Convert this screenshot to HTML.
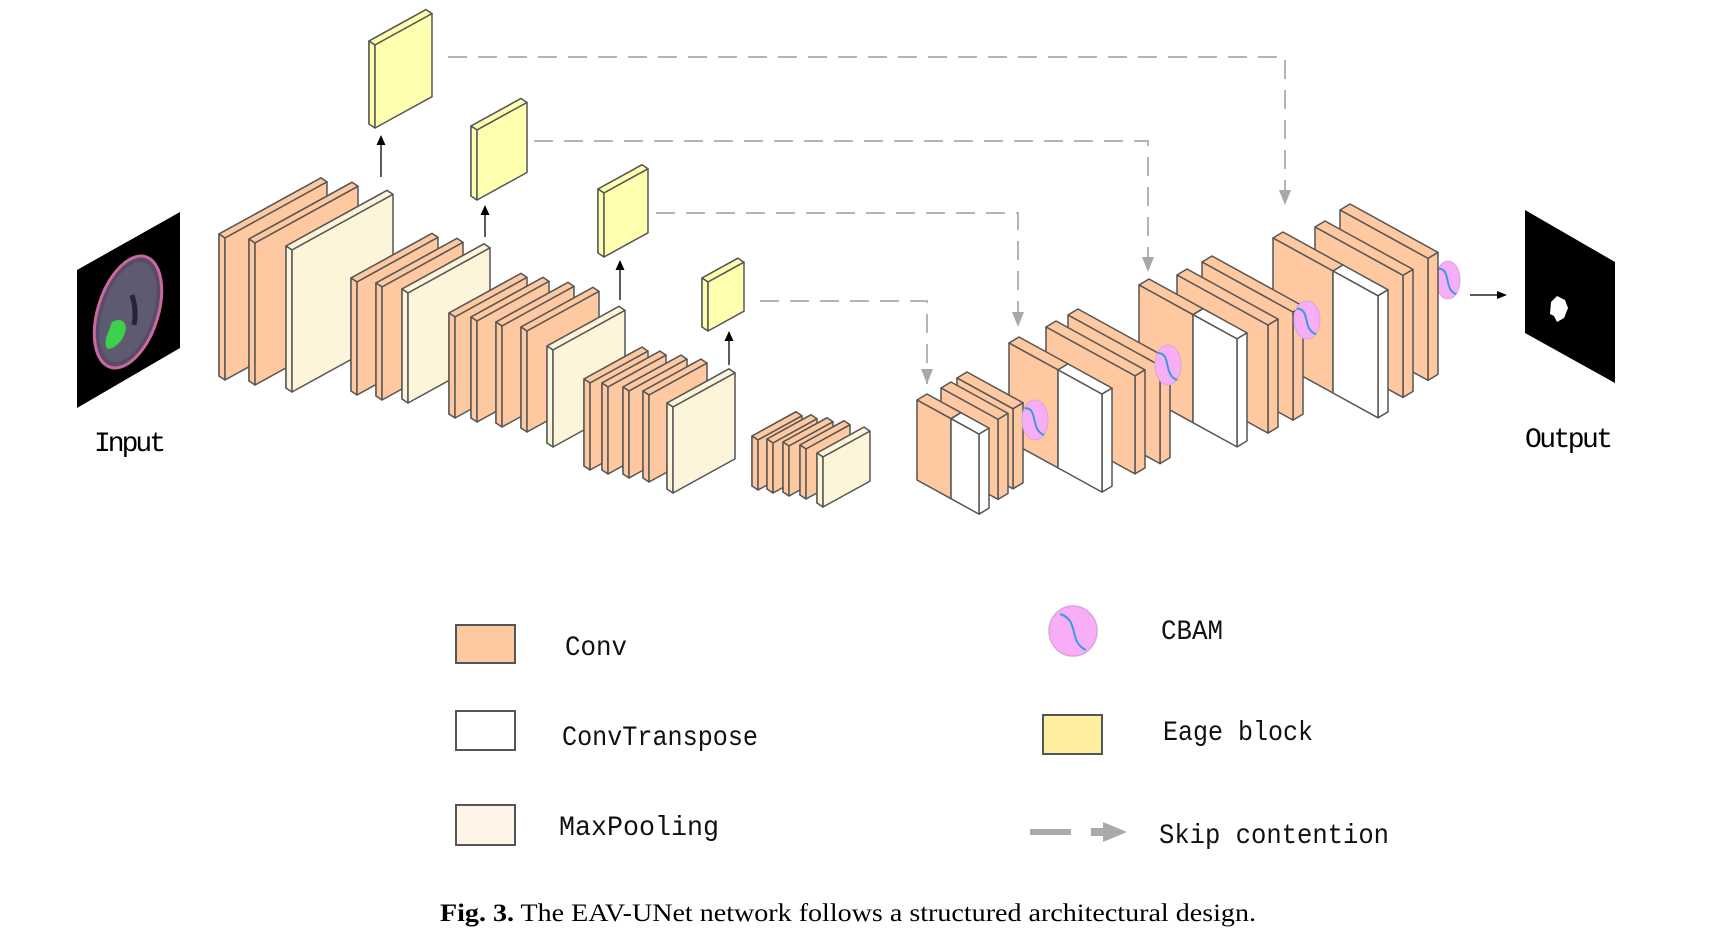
<!DOCTYPE html>
<html><head><meta charset="utf-8"><style>
html,body{margin:0;padding:0;background:#fff;}
svg{display:block;}
</style></head><body>
<svg id="s" width="1717" height="951" viewBox="0 0 1717 951" xmlns="http://www.w3.org/2000/svg">
<rect width="1717" height="951" fill="#fff"/>
<g id="g"></g>
<!-- input -->
<polygon points="77,270 180,212 180,348 77,408" fill="#000"/>
<ellipse cx="128" cy="312" rx="30" ry="58" transform="rotate(18 128 312)" fill="#5a4a6a" stroke="#c76a9a" stroke-width="3"/>
<ellipse cx="128" cy="312" rx="25" ry="52" transform="rotate(18 128 312)" fill="#5e5a70"/>
<path d="M132 295 q5 15 2 30" stroke="#2a2040" stroke-width="5" fill="none"/>
<path d="M112 322 q12 -6 14 6 q-2 14 -14 20 q-8 4 -6 -10z" fill="#3bd14a"/>
<text x="130" y="451" font-family="Liberation Mono, monospace" font-size="28" text-anchor="middle" textLength="72">Input</text>
<!-- output -->
<polygon points="1525,210 1615,262 1615,383 1525,333" fill="#000"/>
<path d="M1551 302 l6 -6 l8 4 l3 8 l-4 10 l-7 4 l-3 -6 l-4 -2z" fill="#fff"/>
<text x="1569" y="447" font-family="Liberation Mono, monospace" font-size="28" text-anchor="middle" textLength="88">Output</text>
<line x1="1470" y1="295" x2="1498" y2="295" stroke="#222" stroke-width="1.5"/>
<polygon points="1507,295 1497,291 1497,299" fill="#000"/>
<!-- legend -->
<rect x="456" y="625" width="59" height="38" fill="#fdc9a0" stroke="#555" stroke-width="2"/>
<rect x="456" y="711" width="59" height="39" fill="#fff" stroke="#555" stroke-width="2"/>
<rect x="456" y="805" width="59" height="40" fill="#fdf3e6" stroke="#555" stroke-width="2"/>
<g font-family="Liberation Mono, monospace" font-size="28" fill="#111">
<text x="565" y="655" textLength="62" lengthAdjust="spacingAndGlyphs">Conv</text>
<text x="562" y="745" textLength="196" lengthAdjust="spacingAndGlyphs">ConvTranspose</text>
<text x="559" y="835" textLength="160" lengthAdjust="spacingAndGlyphs">MaxPooling</text>
<text x="1161" y="639" textLength="62" lengthAdjust="spacingAndGlyphs">CBAM</text>
<text x="1163" y="740" textLength="150" lengthAdjust="spacingAndGlyphs">Eage block</text>
<text x="1159" y="843" textLength="230" lengthAdjust="spacingAndGlyphs">Skip contention</text>
</g>
<ellipse cx="1073" cy="631" rx="24" ry="25" fill="#f7aef7" stroke="#d9a6dc" stroke-width="1.5"/>
<path d="M1060 614 C1080 620 1068 642 1086 650" stroke="#3a9ae0" stroke-width="2" fill="none"/>
<rect x="1043" y="715" width="59" height="39" fill="#fdeea0" stroke="#555" stroke-width="2"/>
<line x1="1030" y1="832" x2="1071" y2="832" stroke="#aaa" stroke-width="6"/>
<polygon points="1091,828 1103,828 1103,822 1127,832 1103,842 1103,836 1091,836" fill="#aaa"/>
<text x="440" y="921" font-family="Liberation Serif, serif" font-size="25" textLength="816" lengthAdjust="spacingAndGlyphs"><tspan font-weight="bold">Fig. 3.</tspan> The EAV-UNet network follows a structured architectural design.</text>
</svg>
<script>
var NS="http://www.w3.org/2000/svg",G=document.getElementById("g");
function P(pts,fill,sw){var p=document.createElementNS(NS,"polygon");p.setAttribute("points",pts.map(function(a){return a[0].toFixed(1)+","+a[1].toFixed(1)}).join(" "));p.setAttribute("fill",fill);p.setAttribute("stroke","#555");p.setAttribute("stroke-width",sw||1.5);p.setAttribute("stroke-linejoin","round");G.appendChild(p);}
function face(x,y,w,h,s){return [[x,y],[x+w,y+w*s],[x+w,y+w*s+h],[x,y+h]];}
function enc(x,y,w,h,f){var s=-0.55,dx=-6,dy=-4;P(face(x+dx,y+dy,w,h,s),f);
 var a=face(x,y,w,h,s);P([[x+dx,y+dy],[x+dx+w,y+dy+w*s],a[1],a[0]],f);P([[x+dx,y+dy],a[0],a[3],[x+dx,y+dy+h]],f);P(a,f);}
var C="#fec8a0",M="#fdf5da",Y="#ffffb0",W="#fff";
function dec(x,y,w,h,split){var s=0.55,dx=10,dy=-6;
 var a=face(x,y,w,h,s);
 if(split){var w1=split-x;
  P([[x,y],[x+dx,y+dy],[x+dx+w1,y+dy+w1*s],[x+w1,y+w1*s]],C);
  P([[x+w1,y+w1*s],[x+dx+w1,y+dy+w1*s],[x+dx+w,y+dy+w*s],[x+w,y+w*s]],W);
  P([a[1],[a[1][0]+dx,a[1][1]+dy],[a[2][0]+dx,a[2][1]+dy],a[2]],W);
  P(face(x,y,w1,h,s),C);P(face(split,y+w1*s,w-w1,h,s),W);
 }else{
  P([[x,y],[x+dx,y+dy],[x+dx+w,y+dy+w*s],[x+w,y+w*s]],C);
  P([a[1],[a[1][0]+dx,a[1][1]+dy],[a[2][0]+dx,a[2][1]+dy],a[2]],C);
  P(a,C);}
}
function dash(pts){var p=document.createElementNS(NS,"polyline");p.setAttribute("points",pts.join(" "));p.setAttribute("fill","none");p.setAttribute("stroke","#b4b4b4");p.setAttribute("stroke-width","2");p.setAttribute("stroke-dasharray","19 11");G.appendChild(p);
 var e=pts[pts.length-1].split(",");var x=+e[0],y=+e[1];var t=document.createElementNS(NS,"polygon");t.setAttribute("points",(x-6)+","+(y-15)+" "+(x+6)+","+(y-15)+" "+x+","+y);t.setAttribute("fill","#a8a8a8");G.appendChild(t);}
function arr(x,y1,y2){var l=document.createElementNS(NS,"line");l.setAttribute("x1",x);l.setAttribute("x2",x);l.setAttribute("y1",y1);l.setAttribute("y2",y2+8);l.setAttribute("stroke","#333");l.setAttribute("stroke-width","1.6");G.appendChild(l);
 var t=document.createElementNS(NS,"polygon");t.setAttribute("points",(x-4.5)+","+(y2+10)+" "+(x+4.5)+","+(y2+10)+" "+x+","+y2);t.setAttribute("fill","#000");G.appendChild(t);}
function cbam(cx,cy,rx,ry){var e=document.createElementNS(NS,"ellipse");e.setAttribute("cx",cx);e.setAttribute("cy",cy);e.setAttribute("rx",rx);e.setAttribute("ry",ry);e.setAttribute("fill","#f7aef7");e.setAttribute("stroke","#d9a6dc");G.appendChild(e);
 var p=document.createElementNS(NS,"path");p.setAttribute("d","M"+(cx-rx*0.8)+" "+(cy-ry*0.6)+" C"+(cx+rx*0.3)+" "+(cy-ry*0.6)+" "+(cx-rx*0.4)+" "+(cy+ry*0.5)+" "+(cx+rx*0.7)+" "+(cy+ry*0.75));p.setAttribute("stroke","#3a9ae0");p.setAttribute("stroke-width","2");p.setAttribute("fill","none");G.appendChild(p);}
dash(["448,57","1285,57","1285,205"]);
dash(["534,141","1148,141","1148,272"]);
dash(["656,213","1018,213","1018,327"]);
dash(["760,301","927,301","927,384"]);
enc(375,45,57,83,Y);enc(477,130,50,70,Y);enc(604,193,44,64,Y);enc(708,282,36,49,Y);
arr(381,177,135);arr(485,237,205);arr(620,300,260);arr(729,365,331);
enc(225,238,102,142,C);enc(255,243,103,142,C);enc(292,250,101,142,M);
enc(357,282,81,113,C);enc(382,287,81,113,C);enc(408,293,82,110,M);
enc(455,317,72,101,C);enc(477,321,72,101,C);enc(502,326,72,101,C);enc(527,331,72,101,C);enc(553,350,72,97,M);
enc(590,383,58,87,C);enc(608,387,58,87,C);enc(629,391,58,87,C);enc(649,395,58,87,C);enc(673,407,62,86,M);
enc(758,440,44,50,C);enc(773,443,44,50,C);enc(789,446,44,50,C);enc(806,449,44,50,C);enc(823,457,47,50,M);
cbam(1448,280,12,19);
dec(1340,210,88,122);dec(1315,227,88,122);dec(1273,238,105,122,1333);
dec(1202,262,91,108);dec(1177,275,91,108);dec(1139,285,98,108,1193);
dec(1068,315,92,98);dec(1046,327,89,98);dec(1009,343,93,98,1058);
dec(957,378,56,80);dec(941,388,57,80);dec(917,400,62,80,951);
cbam(1307,320,13,19);cbam(1168,365,13,20);cbam(1035,420,13,20);
</script>
</body></html>
